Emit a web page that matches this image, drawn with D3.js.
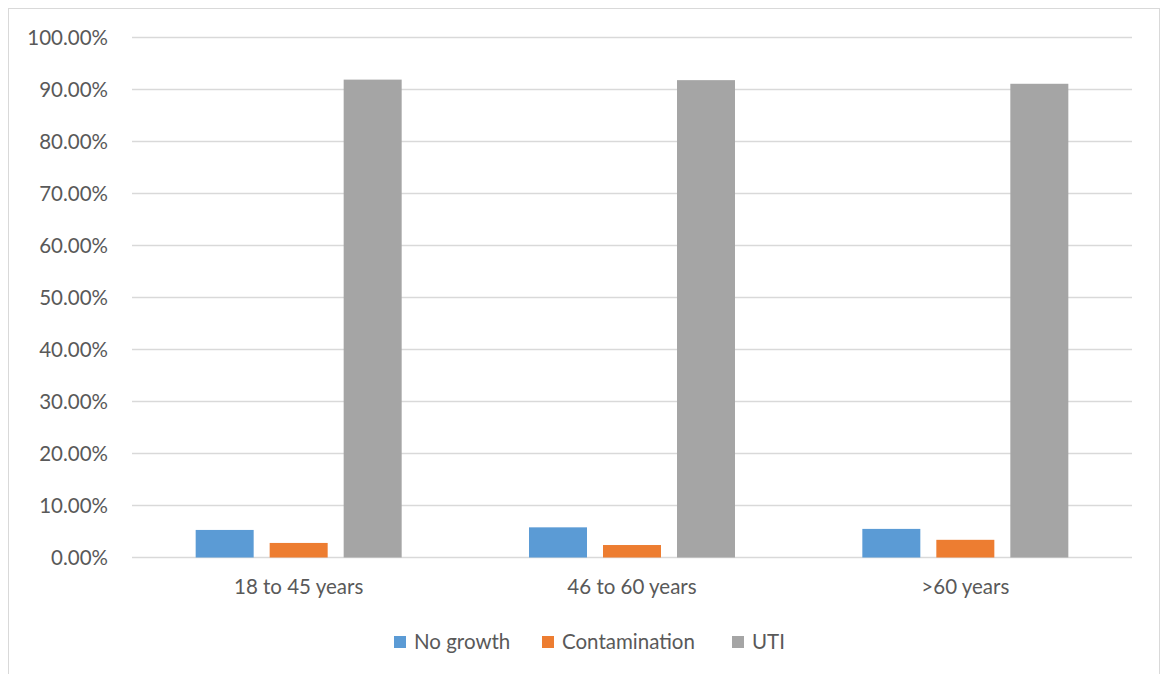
<!DOCTYPE html>
<html>
<head>
<meta charset="utf-8">
<script src="https://cdn.jsdelivr.net/npm/d3@7"></script>
<style>
  body { margin: 0; background: #fff; }
  svg { display: block; }
  text { font-family: "Lato", "Open Sans", sans-serif; fill: #595959; }
</style>
</head>
<body>
<div id="chart"></div>
<script>
const categories = ["18 to 45 years", "46 to 60 years", ">60 years"];
const seriesNames = ["No growth", "Contamination", "UTI"];
const noGrowth = [0.053, 0.058, 0.055];
const contamination = [0.028, 0.024, 0.034];
const uti = [0.919, 0.918, 0.911];
const yTicks = [0, 0.1, 0.2, 0.3, 0.4, 0.5, 0.6, 0.7, 0.8, 0.9, 1.0];
const colors = ["#5B9BD5", "#ED7D31", "#A5A5A5"];

const width = 1162, height = 674;
const margin = { top: 37.5, right: 30, bottom: 116.5, left: 132 };
const innerW = 1000, innerH = height - margin.top - margin.bottom;
const fontSize = "20.5px";

const svg = d3.select("#chart").append("svg")
  .attr("width", width)
  .attr("height", height);

// outer border of chart area
svg.append("rect")
  .attr("x", 8.5).attr("y", 8.5)
  .attr("width", 1151).attr("height", 680)
  .attr("fill", "none")
  .attr("stroke", "#D9D9D9")
  .attr("stroke-width", 1);

const g = svg.append("g").attr("transform", `translate(${margin.left},${margin.top})`);

const x0 = d3.scaleBand().domain(categories).range([0, innerW]);
const y = d3.scaleLinear().domain([0, 1]).range([innerH, 0]);

// gridlines
g.selectAll(".grid").data(yTicks).enter().append("line")
  .attr("x1", 0).attr("x2", innerW)
  .attr("y1", d => y(d)).attr("y2", d => y(d))
  .attr("stroke", "#D9D9D9").attr("stroke-width", 1.3);

// y axis labels
const yAxis = d3.axisLeft(y).tickValues(yTicks).tickSize(0).tickPadding(24)
  .tickFormat(d => (d * 100).toFixed(2) + "%");
const ya = g.append("g").call(yAxis);
ya.select(".domain").remove();
ya.selectAll("text").style("font-size", fontSize).attr("fill", "#595959");

// bars
const rows = categories.map((c, i) => ({ cat: c, vals: [noGrowth[i], contamination[i], uti[i]] }));
const groupW = 222; // 3 steps of 74px, bars 58px wide
const x1 = d3.scaleBand().domain(seriesNames).range([0, groupW])
  .paddingInner(16 / 74).paddingOuter(8 / 74);

const grp = g.selectAll(".cat").data(rows).enter().append("g")
  .attr("transform", d => `translate(${x0(d.cat) + x0.bandwidth() / 2 - groupW / 2},0)`);

grp.selectAll("rect").data(d => d.vals.map((v, j) => ({ name: seriesNames[j], v, j })))
  .enter().append("rect")
  .attr("x", d => x1(d.name))
  .attr("width", x1.bandwidth())
  .attr("y", d => y(d.v))
  .attr("height", d => y(0) - y(d.v))
  .attr("fill", d => colors[d.j]);

// x axis labels
const xAxis = d3.axisBottom(x0).tickSize(0).tickPadding(22);
const xa = g.append("g").attr("transform", `translate(0,${innerH})`).call(xAxis);
xa.select(".domain").remove();
xa.selectAll("text").style("font-size", fontSize).attr("fill", "#595959");

// legend
const legendX = [394, 542, 732];
const legend = svg.append("g").attr("transform", "translate(0,636)");
seriesNames.forEach((n, i) => {
  const it = legend.append("g").attr("transform", `translate(${legendX[i]},0)`);
  it.append("rect").attr("width", 12).attr("height", 12).attr("fill", colors[i]);
  it.append("text").attr("x", 20).attr("y", 12.5).style("font-size", fontSize).text(n);
});
</script>
</body>
</html>
